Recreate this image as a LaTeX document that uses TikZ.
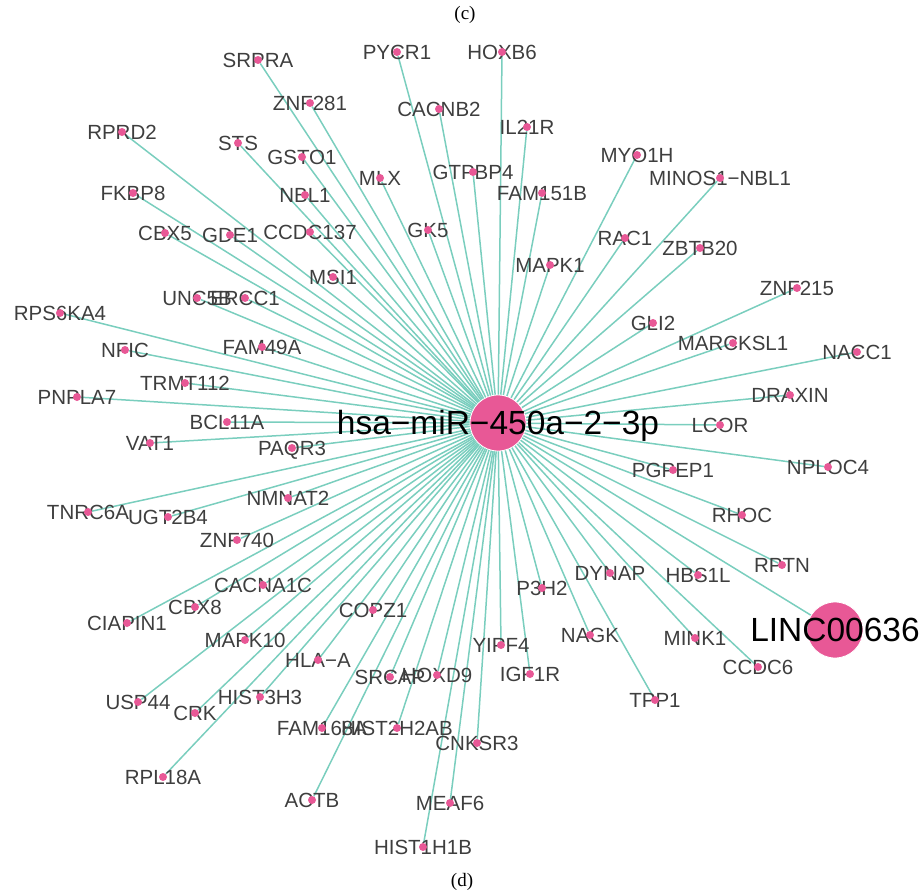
\documentclass[tikz,border=0pt]{standalone}
\usepackage{fontspec}
\setmainfont{Liberation Serif}
\newfontfamily\arialf{Liberation Sans}
\pgfdeclarelayer{bg}\pgfdeclarelayer{lab}\pgfdeclarelayer{fg}
\pgfsetlayers{bg,lab,main,fg}
\definecolor{edgecol}{RGB}{122,206,190}
\definecolor{pinkcol}{RGB}{232,88,150}
\definecolor{labcol}{RGB}{62,62,62}
\tikzset{
 dot/.style={circle,fill=pinkcol,inner sep=0pt,minimum size=8pt},
 glab/.style={font=\arialf\fontsize{20.5}{20.5}\selectfont,text=labcol,anchor=base,inner sep=0pt},
 edge/.style={draw=edgecol,line width=1.5pt},
 hubc/.style={circle,fill=pinkcol,draw=white,line width=0.8pt,inner sep=0pt,minimum size=56pt},
 hublab/.style={font=\arialf\fontsize{33.5}{33.5}\selectfont,text=black,anchor=base,inner sep=0pt},
 captxt/.style={font=\fontsize{19}{19}\selectfont,text=black,inner sep=0pt}
}
\begin{document}
\begin{tikzpicture}[x=1pt,y=-1pt]
\useasboundingbox (0,0) rectangle (921,893);
\node[captxt] (capc) at (465,15) {(c)};
\node[captxt] (capd) at (462,882) {(d)};
\node[hubc] (hub) at (498,423) {};
\begin{pgfonlayer}{fg}
\node[hublab] (hubl) at ([yshift=-11.8pt]hub.center) {hsa−miR−450a−2−3p};
\end{pgfonlayer}
\node[hubc] (linc) at (835,630) {};
\begin{pgfonlayer}{fg}
\node[hublab] (lincl) at ([yshift=-11.8pt]linc.center) {LINC00636};
\end{pgfonlayer}
\begin{pgfonlayer}{bg}
\draw[edge] (hub.center) -- (linc);
\end{pgfonlayer}
\foreach \n/\x/\y/\t in {
SRPRA/258/60/SRPRA, PYCR1/397/52/PYCR1, HOXB6/502/52/HOXB6, ZNF281/310/103/ZNF281,
CACNB2/439/109/CACNB2, IL21R/527/127/IL21R, RPRD2/122/132/RPRD2, STS/238/143/STS,
GSTO1/302/157/GSTO1, MYO1H/637/155/MYO1H, GTPBP4/473/172/GTPBP4, MLX/380/178/MLX,
MINOSNBL/720/178/MINOS1−NBL1, FKBP8/133/193/FKBP8, NBL1/305/195/NBL1, FAM151B/542/193/FAM151B,
CBX5/165/233/CBX5, GDE1/230/235/GDE1, CCDC137/310/232/CCDC137, GK5/428/230/GK5,
RAC1/625/238/RAC1, ZBTB20/700/248/ZBTB20, MAPK1/550/265/MAPK1, MSI1/333/277/MSI1,
ZNF215/797/288/ZNF215, UNC5B/197/298/UNC5B, ERCC1/245/298/ERCC1, RPS6KA4/60/313/RPS6KA4,
GLI2/653/323/GLI2, MARCKSL1/733/343/MARCKSL1, NFIC/125/350/NFIC, FAM49A/262/347/FAM49A,
NACC1/857/352/NACC1, TRMT112/185/383/TRMT112, PNPLA7/77/397/PNPLA7, DRAXIN/790/395/DRAXIN,
BCL11A/227/422/BCL11A, LCOR/720/425/LCOR, VAT1/150/443/VAT1, PAQR3/292/448/PAQR3,
NPLOC4/828/467/NPLOC4, PGPEP1/673/470/PGPEP1, NMNAT2/288/498/NMNAT2, TNRC6A/88/512/TNRC6A,
UGT2B4/168/517/UGT2B4, RHOC/742/515/RHOC, ZNF740/237/540/ZNF740, RPTN/782/565/RPTN,
DYNAP/610/573/DYNAP, HBS1L/698/575/HBS1L, CACNA1C/263/585/CACNA1C, P3H2/542/588/P3H2,
CBX8/195/607/CBX8, COPZ1/373/610/COPZ1, CIAPIN1/127/623/CIAPIN1, NAGK/590/635/NAGK,
MINK1/695/638/MINK1, MAPK10/245/640/MAPK10, YIPF4/501/645/YIPF4, HLAA/318/660/HLA−A,
CCDC6/758/667/CCDC6, SRCAP/390/677/SRCAP, HOXD9/437/675/HOXD9, IGF1R/530/674/IGF1R,
HIST3H3/260/697/HIST3H3, TPP1/655/700/TPP1, USP44/138/702/USP44, CRK/195/713/CRK,
FAM168A/322/728/FAM168A, HIST2H2AB/397/728/HIST2H2AB, CNKSR3/477/743/CNKSR3, RPL18A/163/777/RPL18A,
ACTB/312/800/ACTB, MEAF6/450/803/MEAF6, HIST1H1B/423/847/HIST1H1B}
{
  \node[dot] (\n) at (\x,\y) {};
  \begin{pgfonlayer}{lab}
  \node[glab] (\n l) at ([yshift=-7.3pt]\n.center) {\t};
  \end{pgfonlayer}
  \begin{pgfonlayer}{bg}
  \draw[edge] (hub.center) -- (\n);
  \end{pgfonlayer}
}
\end{tikzpicture}
\end{document}
